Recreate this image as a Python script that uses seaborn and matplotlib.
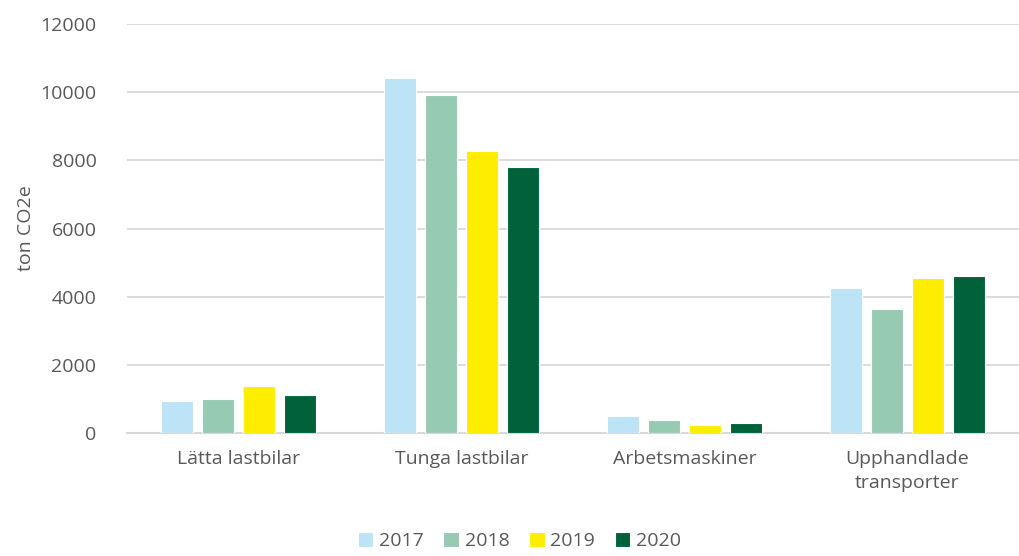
import pandas as pd
import matplotlib.pyplot as plt
import seaborn as sns

# Data (ton CO2e)
kategorier = ['Lätta lastbilar', 'Tunga lastbilar', 'Arbetsmaskiner', 'Upphandlade\ntransporter']
ar = ['2017', '2018', '2019', '2020']
v2017 = [940, 10420, 508, 4256]
v2018 = [990, 9912, 370, 3630]
v2019 = [1390, 8286, 244, 4550]
v2020 = [1115, 7816, 282, 4608]

farger = ['#BDE3F7', '#97CAB2', '#FFED00', '#00613A']

df = pd.DataFrame({
    'kategori': kategorier * 4,
    'ar': [a for a in ar for _ in kategorier],
    'varde': v2017 + v2018 + v2019 + v2020,
})

sns.set_theme(style='white')
plt.rcParams['font.family'] = ['Open Sans', 'DejaVu Sans']

fig = plt.figure(figsize=(10.19, 5.56), dpi=100)
ax = fig.add_axes([0.1246, 0.2212, 0.8754, 0.7356])

sns.barplot(data=df, x='kategori', y='varde', hue='ar', palette=farger,
            saturation=1, width=0.735, gap=0.22, edgecolor='white', linewidth=0.8,
            legend=True, ax=ax, zorder=3)

ax.set_ylim(0, 12000)
ax.set_yticks(range(0, 12001, 2000))
ax.set_xlim(-0.5, 3.5)
ax.yaxis.grid(True, color='#D9D9D9', linewidth=1.3, zorder=0)
ax.set_axisbelow(True)
for s in ['top', 'right', 'left']:
    ax.spines[s].set_visible(False)
ax.spines['bottom'].set_color('#D9D9D9')
ax.spines['bottom'].set_linewidth(1.5)

ax.tick_params(axis='both', length=0, labelsize=14, colors='#595959')
ax.tick_params(axis='x', pad=12)
ax.tick_params(axis='y', pad=22)
for t in ax.get_xticklabels():
    t.set_linespacing(1.45)
ax.set_xlabel('')
ax.set_ylabel('ton CO2e', fontsize=14, color='#595959', labelpad=4)

handles, labels = ax.get_legend_handles_labels()
ax.legend(handles, labels, loc='lower center', bbox_to_anchor=(0.44, -0.305),
          ncol=4, frameon=False, fontsize=14, handlelength=0.8, handleheight=0.8,
          handletextpad=0.3, columnspacing=1.0, labelcolor='#595959',
          borderaxespad=0)

fig.savefig('out.png', dpi=100)
